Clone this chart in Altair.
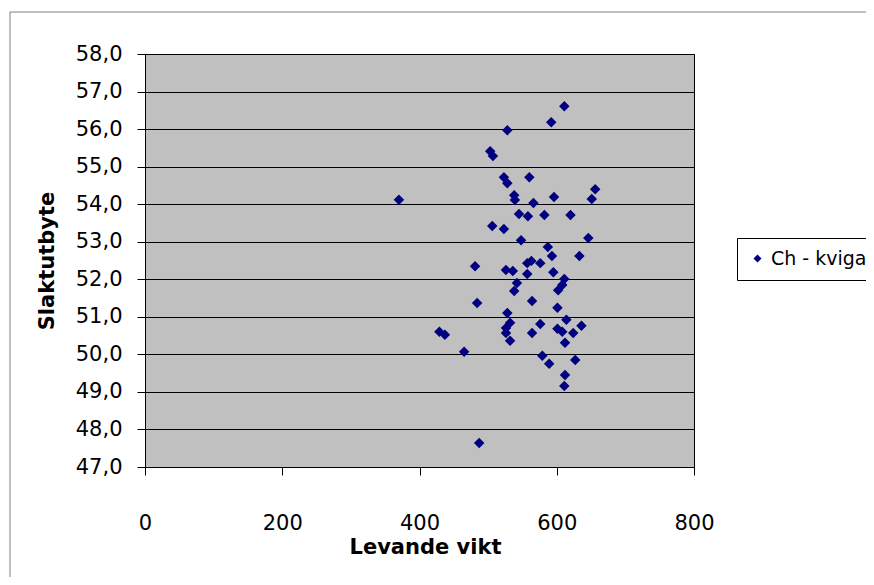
import altair as alt
import pandas as pd

# Levande vikt (x) and Slaktutbyte (y)
levande_vikt = [370, 611, 592, 528, 503, 507, 523, 528, 560, 656,
                651, 538, 539, 566, 596, 545, 558, 582, 620, 506,
                523, 548, 646, 587, 593, 633, 557, 563, 576, 557,
                526, 536, 595, 611, 608, 602, 542, 538, 564, 601,
                528, 532, 526, 526, 532, 576, 564, 614, 601, 608,
                624, 636, 612, 579, 589, 627, 612, 611, 481, 484,
                429, 437, 465, 487]
slaktutbyte = [54.12, 56.61, 56.18, 55.97, 55.41, 55.28, 54.72, 54.56, 54.72, 54.40,
               54.14, 54.24, 54.11, 54.03, 54.19, 53.74, 53.68, 53.71, 53.71, 53.42,
               53.34, 53.04, 53.10, 52.86, 52.62, 52.62, 52.43, 52.49, 52.43, 52.14,
               52.25, 52.22, 52.19, 52.01, 51.85, 51.71, 51.90, 51.69, 51.42, 51.24,
               51.10, 50.84, 50.70, 50.57, 50.36, 50.81, 50.57, 50.92, 50.68, 50.60,
               50.57, 50.76, 50.31, 49.96, 49.75, 49.85, 49.45, 49.16, 52.35, 51.37,
               50.60, 50.52, 50.07, 47.64]
serie_namn = "Ch - kviga"
x_ticks = [0, 200, 400, 600, 800]
y_ticks = [47, 48, 49, 50, 51, 52, 53, 54, 55, 56, 57, 58]

df = pd.DataFrame({"vikt": levande_vikt, "utbyte": slaktutbyte,
                   "serie": [serie_namn] * len(levande_vikt)})

FONT = "DejaVu Sans"
W, H = 549, 413

leg = alt.Legend(title=None, orient="none", legendX=592, legendY=184,
                 labelFontSize=19, symbolSize=64, padding=11,
                 strokeColor="#000000", fillColor="#ffffff",
                 labelFont=FONT, labelOffset=4)

points = alt.Chart(df).mark_point(filled=True, opacity=1, size=110).encode(
    x=alt.X("vikt:Q", scale=alt.Scale(domain=[0, 800], nice=False),
            axis=alt.Axis(values=x_ticks, grid=False, title="Levande vikt",
                          labelFontSize=21, labelPadding=37, tickSize=8,
                          labelFlush=False,
                          titleFontSize=21, titleFontWeight="bold",
                          titleX=280, titleY=80, titleBaseline="middle",
                          titleAlign="center")),
    y=alt.Y("utbyte:Q", scale=alt.Scale(domain=[47, 58], nice=False, zero=False),
            axis=alt.Axis(values=y_ticks, grid=True, title="Slaktutbyte",
                          labelExpr="replace(format(datum.value, '.1f'), '.', ',')",
                          labelFontSize=21, labelPadding=15, tickSize=8,
                          titleFontSize=21, titleFontWeight="bold",
                          titleX=-98, titleY=H / 2, titleBaseline="middle",
                          titleAlign="center", titleAngle=270)),
    color=alt.Color("serie:N", scale=alt.Scale(range=["#000080"]), legend=leg),
    shape=alt.Shape("serie:N", scale=alt.Scale(range=["diamond"]), legend=leg),
)

frame = alt.Chart(pd.DataFrame({"a": [0]})).mark_rect(
    fill=None, stroke="#808080", strokeWidth=1, clip=False
).encode(
    x=alt.value(-135), x2=alt.value(900), y=alt.value(-42), y2=alt.value(700)
)

chart = alt.layer(frame, points).properties(
    width=W, height=H,
    autosize=alt.AutoSizeParams(type="none"),
    padding={"left": 137, "top": 46, "right": 172, "bottom": 110},
    background="#ffffff",
).configure_view(
    fill="#C0C0C0", stroke="#000000", strokeWidth=1
).configure_axis(
    labelFont=FONT, titleFont=FONT, labelColor="#000000", titleColor="#000000",
    domainColor="#000000", tickColor="#000000", gridColor="#000000",
    gridWidth=1, domainWidth=1, tickWidth=1, gridOpacity=1,
).configure_legend(labelColor="#000000")

chart.save("out.html", embed_options={"renderer": "svg", "actions": False})
